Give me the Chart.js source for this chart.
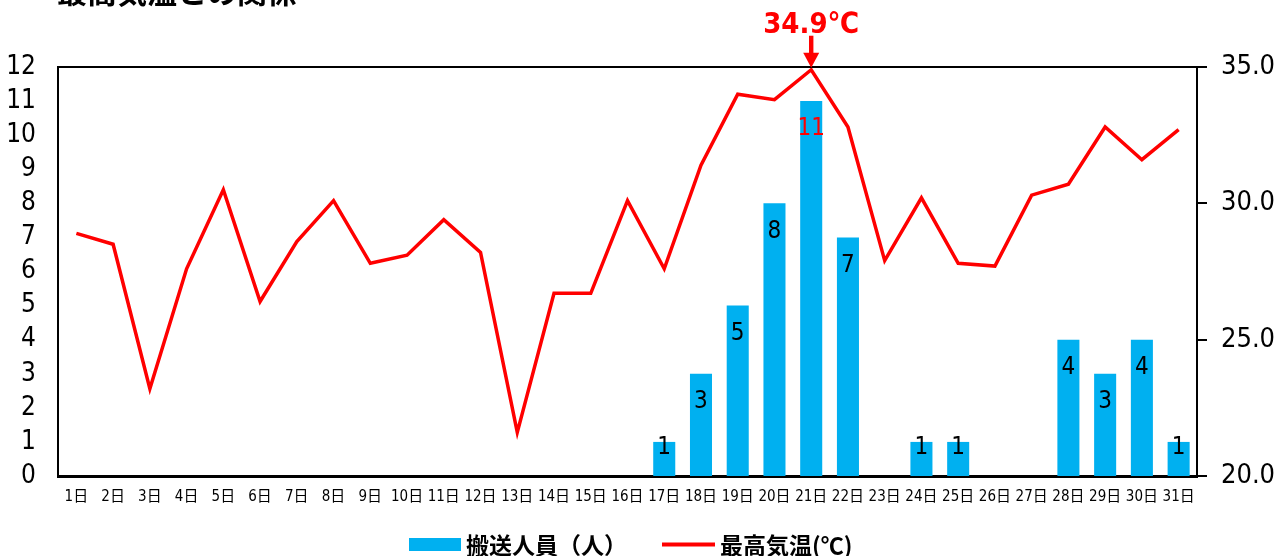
<!DOCTYPE html>
<html lang="ja">
<head>
<meta charset="utf-8">
<script src="https://cdn.jsdelivr.net/npm/chart.js@4.4.1/dist/chart.umd.min.js"></script>
<style>
  html, body { margin: 0; padding: 0; background: #fff; }
  #wrap { width: 1275px; height: 556px; position: relative; }
</style>
</head>
<body>
<div id="wrap"><canvas id="c"></canvas></div>
<script>
// ---- data ----
const days = ['1日','2日','3日','4日','5日','6日','7日','8日','9日','10日','11日','12日','13日','14日','15日','16日',
              '17日','18日','19日','20日','21日','22日','23日','24日','25日','26日','27日','28日','29日','30日','31日'];
const transported = [0,0,0,0,0,0,0,0,0,0,0,0,0,0,0,0,1,3,5,8,11,7,0,1,1,0,0,4,3,4,1];
const maxTemp = [28.9,28.5,23.2,27.6,30.5,26.4,28.6,30.1,27.8,28.1,29.4,28.2,21.6,26.7,26.7,30.1,
                 27.6,31.4,34.0,33.8,34.9,32.8,27.9,30.2,27.8,27.7,30.3,30.7,32.8,31.6,32.7];
const leftTicks = [0,1,2,3,4,5,6,7,8,9,10,11,12];
const rightTicks = [20,25,30,35];
const seriesNames = ['搬送人員（人）', '最高気温(℃)'];
const titleText = '最高気温との関係';
const peakIndex = 20;
const peakLabel = '34.9℃';

const BLUE = '#00B0F0';
const RED = '#FF0000';
const NUM_FONT = "'Liberation Sans Narrow', 'DejaVu Sans Condensed', 'Noto Sans CJK JP', sans-serif";
const JP_FONT = "'Noto Sans CJK JP', sans-serif";

const decor = {
  id: 'decor',
  afterDatasetsDraw(chart) {
    const ctx = chart.ctx;
    const a = chart.chartArea;
    // bar value labels
    const barMeta = chart.getDatasetMeta(0);
    ctx.save();
    ctx.font = "24px " + NUM_FONT;
    ctx.textAlign = 'center';
    ctx.textBaseline = 'middle';
    barMeta.data.forEach((el, i) => {
      const v = transported[i];
      if (!v) return;
      const h = el.base - el.y;
      const y = h > 50 ? el.y + 28 : el.y + 6;
      ctx.fillStyle = (i === peakIndex) ? RED : '#000';
      ctx.fillText(String(v), el.x, y);
    });
    ctx.restore();

    // plot frame (top line)
    ctx.save();
    ctx.strokeStyle = '#000';
    ctx.lineWidth = 2;
    ctx.beginPath();
    ctx.moveTo(a.left, a.top);
    ctx.lineTo(a.right, a.top);
    ctx.stroke();
    ctx.restore();

    // peak annotation
    const lineMeta = chart.getDatasetMeta(1);
    const p = lineMeta.data[peakIndex];
    ctx.save();
    ctx.fillStyle = RED;
    ctx.font = "bold 29px " + NUM_FONT;
    ctx.textAlign = 'center';
    ctx.textBaseline = 'middle';
    ctx.fillText(peakLabel, p.x, p.y - 44);
    ctx.fillRect(p.x - 2.2, p.y - 34, 4.4, 18);
    ctx.beginPath();
    ctx.moveTo(p.x - 8, p.y - 17);
    ctx.lineTo(p.x + 8, p.y - 17);
    ctx.lineTo(p.x, p.y - 2);
    ctx.closePath();
    ctx.fill();
    ctx.restore();

    // title (cropped at top)
    ctx.save();
    ctx.fillStyle = '#000';
    ctx.font = "bold 30px " + JP_FONT;
    ctx.textAlign = 'left';
    ctx.textBaseline = 'alphabetic';
    ctx.fillText(titleText, 57, 3);
    ctx.restore();

    // legend
    ctx.save();
    ctx.fillStyle = BLUE;
    ctx.fillRect(409, 538, 52, 13);
    ctx.strokeStyle = RED;
    ctx.lineWidth = 4;
    ctx.beginPath();
    ctx.moveTo(662, 544.5);
    ctx.lineTo(715, 544.5);
    ctx.stroke();
    ctx.fillStyle = '#000';
    ctx.font = "bold 23px " + JP_FONT;
    ctx.textAlign = 'left';
    ctx.textBaseline = 'middle';
    ctx.fillText(seriesNames[0], 466, 545);
    ctx.fillText(seriesNames[1], 720, 545);
    ctx.restore();
  }
};

new Chart(document.getElementById('c'), {
  type: 'bar',
  data: {
    labels: days,
    datasets: [
      {
        type: 'bar',
        label: seriesNames[0],
        data: transported,
        backgroundColor: BLUE,
        borderWidth: 0,
        categoryPercentage: 1.0,
        barPercentage: 0.6,
        yAxisID: 'y',
        order: 1
      },
      {
        type: 'line',
        label: seriesNames[1],
        data: maxTemp,
        borderColor: RED,
        backgroundColor: RED,
        borderWidth: 3.5,
        pointRadius: 0,
        tension: 0,
        fill: false,
        yAxisID: 'y1',
        order: 0
      }
    ]
  },
  options: {
    responsive: true,
    maintainAspectRatio: false,
    animation: false,
    devicePixelRatio: 1,
    layout: { padding: { top: 67, left: 0, right: 0, bottom: 0 } },
    plugins: {
      legend: { display: false },
      tooltip: { enabled: false },
      title: { display: false }
    },
    scales: {
      x: {
        grid: { display: false, drawTicks: false },
        border: { display: true, color: '#000', width: 3 },
        ticks: {
          color: '#000',
          font: { family: NUM_FONT, size: 15 },
          padding: 12,
          maxRotation: 0,
          autoSkip: false
        },
        afterFit(s) { s.height = 80; }
      },
      y: {
        position: 'left',
        min: 0,
        max: 12,
        grid: { display: false, drawTicks: false },
        border: { display: true, color: '#000', width: 2 },
        afterBuildTicks(s) { s.ticks = leftTicks.map(v => ({ value: v })); },
        ticks: {
          color: '#000',
          font: { family: NUM_FONT, size: 26 },
          padding: 22,
          autoSkip: false
        },
        afterFit(s) { s.width = 58; }
      },
      y1: {
        position: 'right',
        min: 20,
        max: 35,
        grid: { display: true, drawOnChartArea: false, drawTicks: true, tickLength: 10, color: '#000', lineWidth: 2 },
        border: { display: true, color: '#000', width: 2 },
        afterBuildTicks(s) { s.ticks = rightTicks.map(v => ({ value: v })); },
        ticks: {
          color: '#000',
          font: { family: NUM_FONT, size: 27 },
          padding: 14,
          autoSkip: false,
          callback: (v) => Number(v).toFixed(1)
        },
        afterFit(s) { s.width = 78; }
      }
    }
  },
  plugins: [decor]
});
</script>
</body>
</html>
